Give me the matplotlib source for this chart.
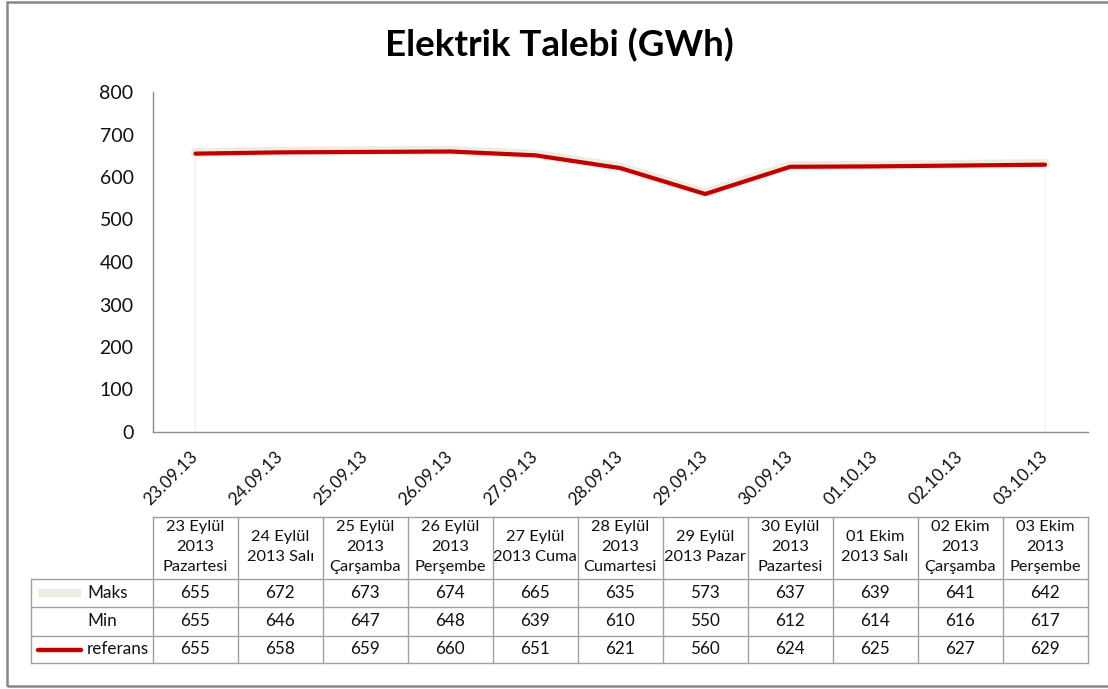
import matplotlib
matplotlib.use("Agg")
import matplotlib.pyplot as plt
import matplotlib.transforms as mtransforms
import matplotlib.patheffects as pe
from matplotlib.lines import Line2D
from matplotlib.patches import Rectangle

plt.rcParams['font.family'] = ['Lato', 'DejaVu Sans']

# data
dates = ['23.09.13', '24.09.13', '25.09.13', '26.09.13', '27.09.13', '28.09.13',
         '29.09.13', '30.09.13', '01.10.13', '02.10.13', '03.10.13']
headers = ['23 Eylül\n2013\nPazartesi', '24 Eylül\n2013 Salı', '25 Eylül\n2013\nÇarşamba',
           '26 Eylül\n2013\nPerşembe', '27 Eylül\n2013 Cuma', '28 Eylül\n2013\nCumartesi',
           '29 Eylül\n2013 Pazar', '30 Eylül\n2013\nPazartesi', '01 Ekim\n2013 Salı',
           '02 Ekim\n2013\nÇarşamba', '03 Ekim\n2013\nPerşembe']
maks = [655, 672, 673, 674, 665, 635, 573, 637, 639, 641, 642]
mins = [655, 646, 647, 648, 639, 610, 550, 612, 614, 616, 617]
referans = [655, 658, 659, 660, 651, 621, 560, 624, 625, 627, 629]

RED = '#c00000'
BEIGE = '#eeece1'
GRID = '#a0a0a0'

W, H = 1108, 689
fig = plt.figure(figsize=(W / 100, H / 100), dpi=100)

# outer chart border
fig.add_artist(Rectangle((7 / W, 1 - 686 / H), 1.2, 684 / H, transform=fig.transFigure,
                         fill=False, edgecolor='#868686', linewidth=1.8))

ax = fig.add_axes([153 / W, 1 - 432 / H, (1087.5 - 153) / W, (432 - 92) / H])
x = list(range(len(dates)))

# faint area edges, then the referans line with its pale band
ax.vlines([x[0], x[-1]], 0, [referans[0], referans[-1]], color='#f3f3f3', linewidth=1)
ax.plot(x, referans, color=RED, linewidth=3, solid_capstyle='round', zorder=3,
        path_effects=[pe.Stroke(linewidth=6.5, foreground=BEIGE, offset=(0, 0.8)), pe.Normal()])

ax.set_xlim(-0.5, len(dates) - 0.5)
ax.set_ylim(0, 800)
ax.set_yticks(range(0, 801, 100))
ax.tick_params(axis='y', length=0, pad=14, labelsize=14, labelcolor='#111111')
ax.set_xticks(x)
ax.set_xticklabels(dates, rotation=45, ha='right', va='center', rotation_mode='anchor',
                   fontsize=12.5, color='#111111')
ax.tick_params(axis='x', length=0, pad=16)
for s in ['top', 'right']:
    ax.spines[s].set_visible(False)
for s in ['left', 'bottom']:
    ax.spines[s].set_color('#8c8c8c')
    ax.spines[s].set_linewidth(1)

fig.text(0.505, 1 - 45 / H, 'Elektrik Talebi (GWh)', ha='center', va='center',
         fontsize=26.5, fontweight='bold', color='#000000')

# data table under the axis
tr = mtransforms.blended_transform_factory(ax.transData, fig.transFigure)
y_head_top = 1 - 517 / H
row_edges = [1 - v / H for v in (579, 607, 636, 663)]
label_left = -0.5 - (153 - 31) / 85.0
n = len(dates)

def hline(x0, x1, y):
    fig.add_artist(Line2D([x0, x1], [y, y], transform=tr, color=GRID, linewidth=1))

def vline(xx, y0, y1):
    fig.add_artist(Line2D([xx, xx], [y0, y1], transform=tr, color=GRID, linewidth=1))

hline(-0.5, n - 0.5, y_head_top)
for yy in row_edges:
    hline(label_left, n - 0.5, yy)
vline(label_left, row_edges[0], row_edges[-1])
for k in range(n + 1):
    vline(k - 0.5, y_head_top, row_edges[-1])

y_head_mid = (y_head_top + row_edges[0]) / 2 + 1 / H
for i, h in enumerate(headers):
    fig.text(x[i], y_head_mid, h, transform=tr, ha='center', va='center',
             fontsize=11.8, linespacing=1.58, color='#111111')

rows = [('Maks', maks, BEIGE, 6), ('Min', mins, None, 0), ('referans', referans, RED, 3.2)]
lab_x = -0.5 - (153 - 87) / 85.0
for r, (name, vals, col, lw) in enumerate(rows):
    yc = (row_edges[r] + row_edges[r + 1]) / 2
    fig.text(lab_x, yc, name, transform=tr, ha='left', va='center', fontsize=12.3, color='#111111')
    if col:
        fig.add_artist(Line2D([label_left + 7 / 85.0, label_left + 50 / 85.0], [yc, yc],
                              transform=tr, color=col, linewidth=lw,
                              solid_capstyle='round' if r == 2 else 'butt'))
    for i, v in enumerate(vals):
        fig.text(x[i], yc, str(v), transform=tr, ha='center', va='center',
                 fontsize=12.3, color='#111111')

fig.savefig('out.png', dpi=100)
